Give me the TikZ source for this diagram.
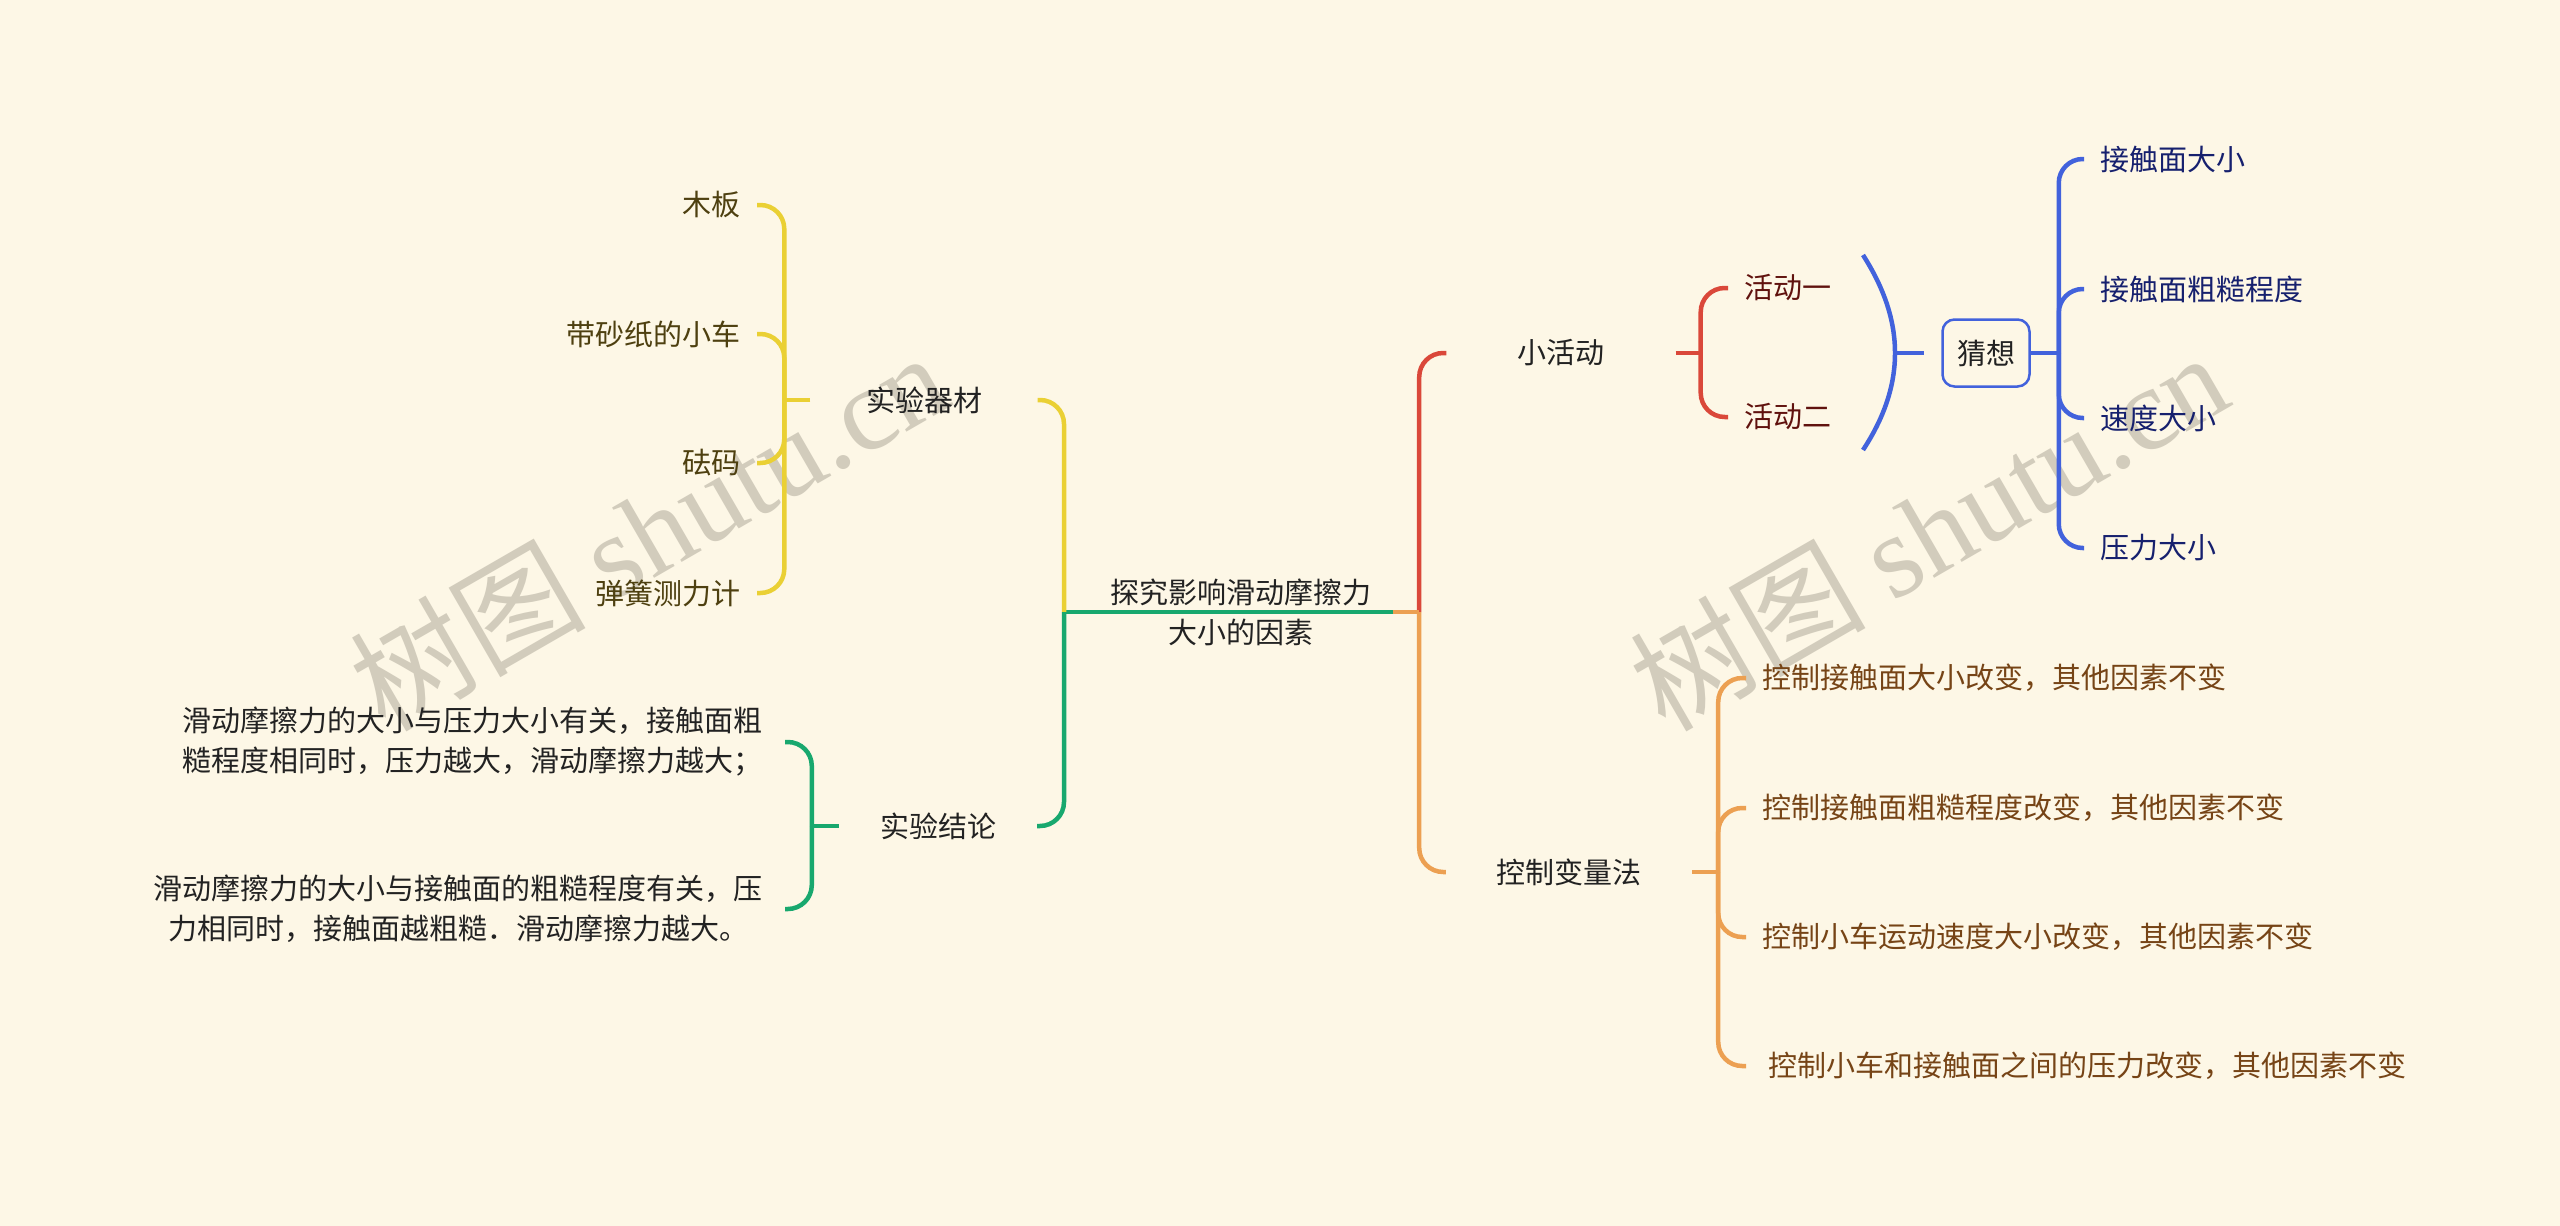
\documentclass[tikz,border=0pt]{standalone}
\usepackage{fontspec}
\setmainfont{Noto Sans CJK SC}
\newfontfamily\wmserif{Liberation Serif}
\usetikzlibrary{positioning,calc}
\definecolor{smbg}{RGB}{253,247,230}
\definecolor{smyellow}{RGB}{234,208,52}
\definecolor{smgreen}{RGB}{24,168,110}
\definecolor{smred}{RGB}{218,72,58}
\definecolor{smorange}{RGB}{236,160,82}
\definecolor{smblue}{RGB}{66,98,220}
\definecolor{txolive}{RGB}{78,64,16}
\definecolor{txmaroon}{RGB}{96,18,14}
\definecolor{txnavy}{RGB}{22,32,110}
\definecolor{txbrown}{RGB}{118,68,22}
\definecolor{txdark}{RGB}{34,34,34}
\definecolor{wmgray}{RGB}{210,204,188}

\begin{document}
\begin{tikzpicture}[
    x=1pt, y=-1pt,
    font=\fontsize{29}{40}\selectfont,
    root/.style={inner sep=0pt, align=center, text=txdark, minimum height=80pt},
    branch/.style={inner sep=0pt, minimum height=40pt, text=txdark},
    leaf/.style={inner xsep=16pt, inner ysep=0pt, align=center},
    link/.style={line width=4.5pt, rounded corners=24pt},
    wm/.style={text=wmgray, rotate=30, inner sep=0pt, font=\fontsize{118}{124}\selectfont}
]
    \useasboundingbox (0,0) rectangle (2560,1226);
    \fill[smbg] (0,0) rectangle (2560,1226);

    % watermark
    \node[wm] (wm1) at (648,530) {树图 {\wmserif shutu.cn}};
    \node[wm] (wm2) at (1928,530) {树图 {\wmserif shutu.cn}};

    \node[root, minimum width=304pt] (root) at (1241,612) {探究影响滑动摩擦力\\大小的因素};

    % main branches
    \node[branch, minimum width=227pt] (equip) at (924,400) {实验器材};
    \node[branch, minimum width=198pt] (concl) at (938,826) {实验结论};
    \node[branch, minimum width=229pt] (act) at (1561,353) {小活动};
    \node[branch, minimum width=246pt] (ctrl) at (1569,872) {控制变量法};

    \coordinate (hubL) at (1064,612);
    \coordinate (hubR) at ([xshift=26pt]root.east);
    \draw[link, smgreen] (root.east) -- (hubL);
    \draw[link, smyellow] (hubL) |- (equip.east);
    \draw[link, smgreen] (hubL) |- (concl.east);
    \draw[link, smred] (hubR) |- (act.west);
    \draw[link, smorange] (root.east) -- (hubR);
    \draw[link, smorange] (hubR) |- (ctrl.west);

    % equipment
    \node[leaf, text=txolive, anchor=east] (y1) at (757,205) {木板};
    \node[leaf, text=txolive, anchor=east] (y2) at (757,334) {带砂纸的小车};
    \node[leaf, text=txolive, anchor=east] (y3) at (757,463) {砝码};
    \node[leaf, text=txolive, anchor=east] (y4) at (757,593) {弹簧测力计};
    \coordinate (yw) at ([xshift=-26pt]equip.west);
    \draw[link, smyellow] (equip.west) -- (yw);
    \foreach \n in {y1,y2,y3,y4}
        \draw[link, smyellow] (yw) |- (\n.east);

    % conclusions
    \node[leaf, text=txdark, anchor=east, inner xsep=22pt] (k1) at (785,742)
        {滑动摩擦力的大小与压力大小有关，接触面粗\\糙程度相同时，压力越大，滑动摩擦力越大；};
    \node[leaf, text=txdark, anchor=east, inner xsep=22pt] (k2) at (785,909)
        {滑动摩擦力的大小与接触面的粗糙程度有关，压\\力相同时，接触面越粗糙．滑动摩擦力越大。};
    \coordinate (gw) at ([xshift=-27pt]concl.west);
    \draw[link, smgreen] (concl.west) -- (gw);
    \foreach \n in {k1,k2}
        \draw[link, smgreen] (gw) |- (\n.east);

    % activities
    \node[leaf, text=txmaroon, anchor=west] (a1) at (1728,288) {活动一};
    \node[leaf, text=txmaroon, anchor=west] (a2) at (1728,417) {活动二};
    \coordinate (re) at ([xshift=25pt]act.east);
    \draw[link, smred] (act.east) -- (re);
    \foreach \n in {a1,a2}
        \draw[link, smred] (re) |- (\n.west);

    % summary of the activities
    \coordinate (bt) at (1863,255);
    \coordinate (bm) at (1895,353);
    \coordinate (bb) at (1863,450);
    \node[draw=smblue, line width=2.5pt, rounded corners=12pt, minimum width=87pt,
          minimum height=67pt, inner sep=0pt, fill=smbg, text=txdark] (guess) at (1986,353) {猜想};
    \draw[line width=4.5pt, smblue] (bt) .. controls (1884,288) and (1895,320) .. (bm)
        .. controls (1895,386) and (1884,418) .. (bb);
    \draw[line width=4.5pt, smblue, shorten >=17pt] (bm) -- (guess.west);

    \node[leaf, text=txnavy, anchor=west] (g1) at (2084,159) {接触面大小};
    \node[leaf, text=txnavy, anchor=west] (g2) at (2084,289) {接触面粗糙程度};
    \node[leaf, text=txnavy, anchor=west] (g3) at (2084,418) {速度大小};
    \node[leaf, text=txnavy, anchor=west] (g4) at (2084,548) {压力大小};
    \coordinate (ge) at ([xshift=28pt]guess.east);
    \draw[link, smblue] (guess.east) -- (ge);
    \foreach \n in {g1,g2,g3,g4}
        \draw[link, smblue] (ge) |- (\n.west);

    % control of variables
    \node[leaf, text=txbrown, anchor=west] (c1) at (1746,678) {控制接触面大小改变，其他因素不变};
    \node[leaf, text=txbrown, anchor=west] (c2) at (1746,808) {控制接触面粗糙程度改变，其他因素不变};
    \node[leaf, text=txbrown, anchor=west] (c3) at (1746,937) {控制小车运动速度大小改变，其他因素不变};
    \node[leaf, text=txbrown, anchor=west, inner xsep=22pt] (c4) at (1746,1066) {控制小车和接触面之间的压力改变，其他因素不变};
    \coordinate (oe) at ([xshift=26pt]ctrl.east);
    \draw[link, smorange] (ctrl.east) -- (oe);
    \foreach \n in {c1,c2,c3,c4}
        \draw[link, smorange] (oe) |- (\n.west);
\end{tikzpicture}
\end{document}
